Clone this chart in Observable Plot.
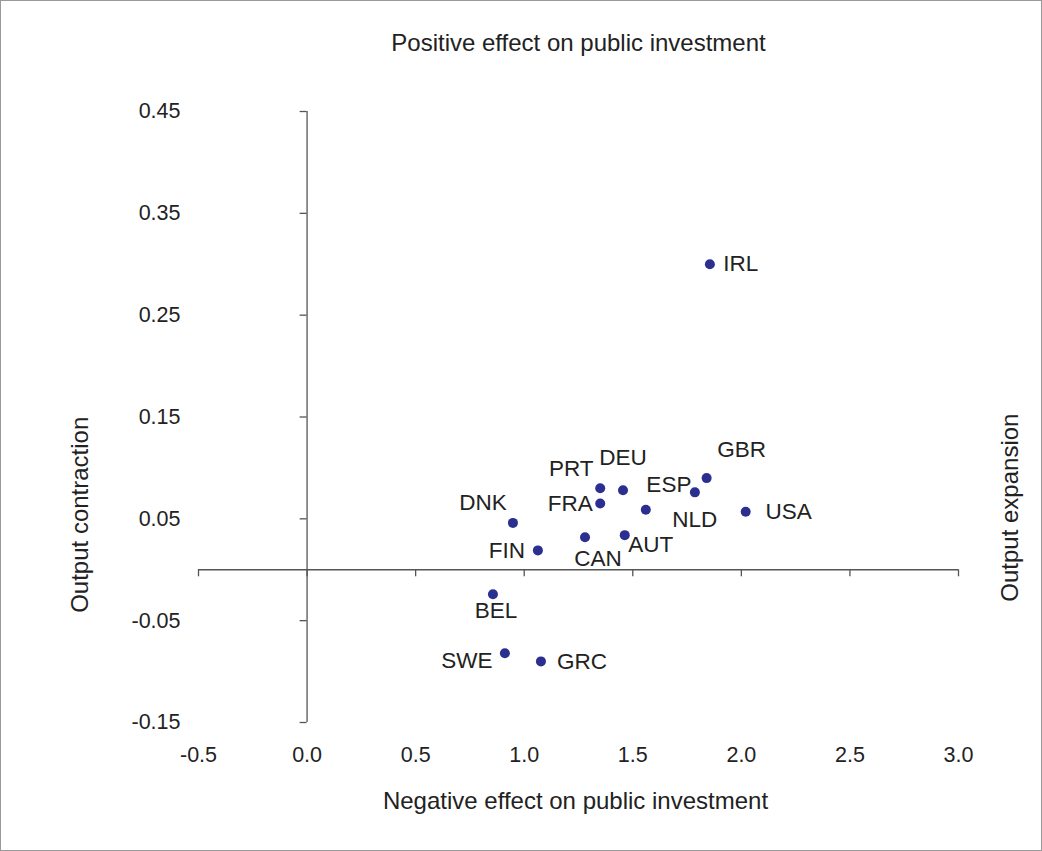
<!DOCTYPE html>
<html>
<head>
<meta charset="utf-8">
<script src="https://cdn.jsdelivr.net/npm/d3@7"></script>
<script src="https://cdn.jsdelivr.net/npm/@observablehq/plot@0.6"></script>
<style>
  body { margin: 0; background: #fff; }
  #chart { position: relative; width: 1040px; height: 849px; border: 1px solid #999; }
</style>
</head>
<body>
<div id="chart"></div>
<script>
const countries = ['IRL', 'GBR', 'PRT', 'DEU', 'FRA', 'ESP', 'NLD', 'USA', 'DNK', 'CAN', 'AUT', 'FIN', 'BEL', 'SWE', 'GRC']
const negEffect = [1.855, 1.84, 1.35, 1.455, 1.35, 1.786, 1.56, 2.02, 0.948, 1.28, 1.463, 1.063, 0.856, 0.911, 1.077]
const outputEff = [0.300, 0.090, 0.080, 0.078, 0.065, 0.076, 0.059, 0.057, 0.046, 0.032, 0.034, 0.019, -0.024, -0.082, -0.090]
// label offsets (dx, dy) per country
const labelDx = [31, 35, -29, 0, -30, -26, 49, 43, -30, 13, 26, -31, 3, -38, 41]
const labelDy = [0, -28, -19, -33, 0, -8, 10, 0, -20, 22, 10, 0, 17, 8, 0]

const xTicks = [-0.5, 0.0, 0.5, 1.0, 1.5, 2.0, 2.5, 3.0]
const yTicks = [0.45, 0.35, 0.25, 0.15, 0.05, -0.05, -0.15]

const data = countries.map((c, i) => ({c, x: negEffect[i], y: outputEff[i], dx: labelDx[i], dy: labelDy[i]}))
const font = 'Liberation Sans, Arial, sans-serif'
const axisColor = '#555'
const fs = 21.5
const labelFs = 22.5
const titleFs = 24

const chart = Plot.plot({
  width: 1040, height: 849,
  marginLeft: 197, marginRight: 83, marginTop: 110, marginBottom: 128,
  x: {domain: [-0.5, 3.0], axis: null},
  y: {domain: [-0.15, 0.45], axis: null},
  style: {fontFamily: font, color: '#222', background: 'white'},
  marks: [
    Plot.ruleX([0], {y1: -0.15, y2: 0.45, stroke: axisColor, strokeWidth: 1.3}),
    Plot.ruleY([0], {x1: -0.5, x2: 3.0, stroke: axisColor, strokeWidth: 1.3}),
    Plot.ruleX(xTicks, {x: d => d, y1: 0, y2: -0.0069, stroke: axisColor, strokeWidth: 1.3}),
    Plot.ruleY(yTicks, {y: d => d, x1: -0.032, x2: 0, stroke: axisColor, strokeWidth: 1.3}),
    Plot.text(xTicks, {x: d => d, y: -0.15, dy: 33, text: d => d.toFixed(1), fontSize: fs, fill: '#222'}),
    Plot.text(yTicks, {x: -0.5, y: d => d, dx: -18, text: d => d.toFixed(2), textAnchor: 'end', fontSize: fs, fill: '#222'}),
    Plot.dot(data, {x: 'x', y: 'y', r: 5, fill: '#2b2f8f', stroke: 'none'}),
    ...data.map(d => Plot.text([d], {x: 'x', y: 'y', text: 'c', dx: d.dx, dy: d.dy, fontSize: labelFs, fill: '#222'})),
    Plot.text(['Positive effect on public investment'], {x: 1.25, y: 0.45, dy: -68, text: d => d, fontSize: titleFs, fill: '#222', dx: 0}),
    Plot.text(['Negative effect on public investment'], {x: 1.25, y: -0.15, dy: 79, text: d => d, fontSize: titleFs, fill: '#222', dx: -3}),
    Plot.text(['Output contraction'], {x: -0.5, y: 0.054, dx: -118, rotate: -90, text: d => d, fontSize: titleFs, fill: '#222'}),
    Plot.text(['Output expansion'], {x: 3.0, y: 0.061, dx: 52, rotate: -90, text: d => d, fontSize: titleFs, fill: '#222'})
  ]
})

d3.select('#chart').append(() => chart)
</script>
</body>
</html>
